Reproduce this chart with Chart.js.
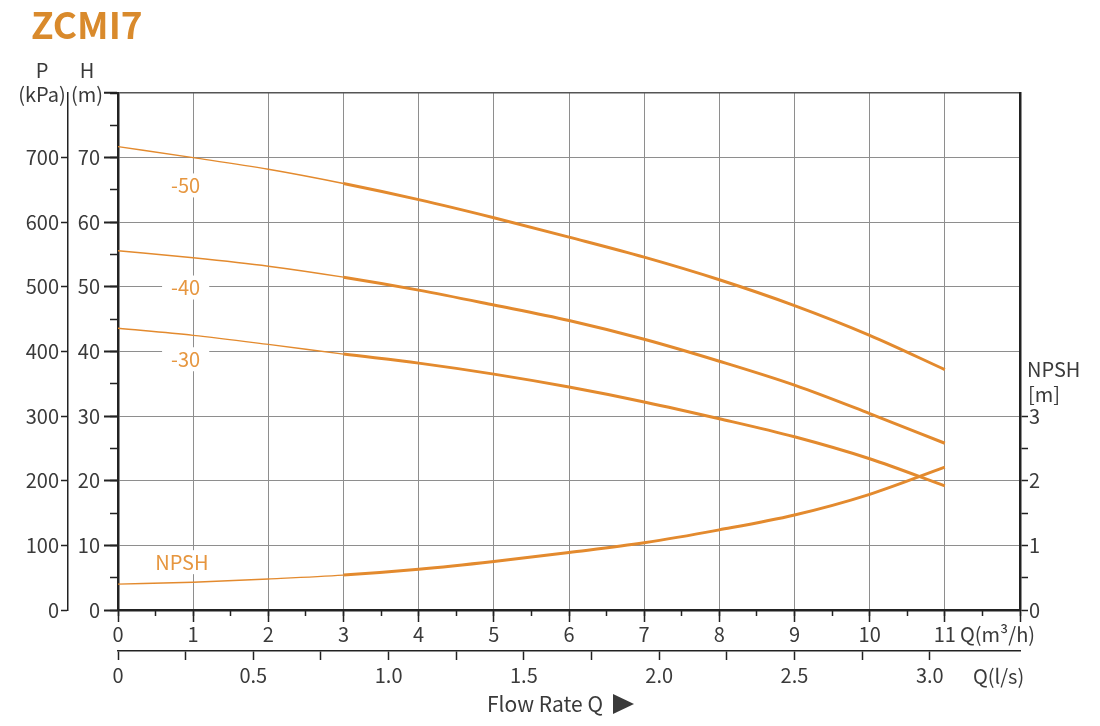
<!DOCTYPE html>
<html>
<head>
<meta charset="utf-8">
<script src="https://cdn.jsdelivr.net/npm/chart.js@4.4.0/dist/chart.umd.min.js"></script>
<style>
  html, body { margin: 0; padding: 0; background: #fff; }
  #wrap { position: relative; width: 1100px; height: 726px; }
</style>
</head>
<body>
<div id="wrap"><canvas id="pump" width="1100" height="726"></canvas></div>
<script>
// Flow in m3/h, head in m, NPSH in m
const flow = [0, 1, 2, 3, 4, 5, 6, 7, 8, 9, 10, 11];
const head50 = [71.7, 70.0, 68.2, 66.0, 63.5, 60.7, 57.7, 54.6, 51.1, 47.1, 42.5, 37.2];
const head40 = [55.6, 54.5, 53.2, 51.5, 49.5, 47.2, 44.8, 41.9, 38.5, 34.8, 30.4, 25.8];
const head30 = [43.6, 42.5, 41.1, 39.6, 38.2, 36.5, 34.5, 32.2, 29.6, 26.8, 23.4, 19.2];
const npsh = [0.40, 0.43, 0.48, 0.54, 0.63, 0.75, 0.89, 1.04, 1.24, 1.47, 1.79, 2.21];

// curve name tags (position in chart units: Q m3/h, H m)
const tagText = ["-50", "-40", "-30", "NPSH"];
const tagQ = [0.9, 0.9, 0.9, 0.85];
const tagH = [65.7, 49.9, 38.8, 7.4];

const ORANGE = "#e38a2e";
const TAG = "#e6963f";
const INK = "#3a3a3a";
const GRID = "#8e8e8e";
const FONT = "'Noto Sans CJK SC', 'Noto Sans', sans-serif";

const thinThick = { borderWidth: (ctx) => (ctx.p0.parsed.x >= 3 ? 3 : 1.4) };

function curve(label, data, axis) {
  return {
    label: label,
    data: flow.map((q, i) => ({ x: q, y: data[i] })),
    yAxisID: axis,
    borderColor: ORANGE,
    borderWidth: 3,
    pointRadius: 0,
    cubicInterpolationMode: "monotone",
    segment: thinThick,
  };
}

const isInt = (v) => Math.abs(v - Math.round(v)) < 1e-6;
const isHalf = (v) => Math.abs(v * 2 - Math.round(v * 2)) < 1e-6;

// tags with white boxes, drawn under the curves but over the grid
const tagPlugin = {
  id: "tags",
  beforeDatasetsDraw(chart) {
    const ctx = chart.ctx;
    const xs = chart.scales.x, ys = chart.scales.y;
    ctx.save();
    ctx.font = "20px " + FONT;
    ctx.textAlign = "center";
    ctx.textBaseline = "middle";
    tagText.forEach((t, i) => {
      const px = xs.getPixelForValue(tagQ[i]);
      const py = ys.getPixelForValue(tagH[i]);
      const w = ctx.measureText(t).width + 18;
      ctx.fillStyle = "#fff";
      ctx.fillRect(px - w / 2, py - 12, w, 24);
      ctx.fillStyle = TAG;
      ctx.fillText(t, px, py);
    });
    ctx.restore();
  },
  afterDraw(chart) {
    const ctx = chart.ctx;
    const a = chart.chartArea;
    ctx.save();
    // title
    ctx.fillStyle = "#d98a2c";
    ctx.font = "bold 37px " + FONT;
    ctx.textAlign = "left";
    ctx.textBaseline = "alphabetic";
    ctx.fillText("ZCMI7", 31, 39);

    ctx.fillStyle = INK;
    ctx.font = "20px " + FONT;
    ctx.textBaseline = "middle";
    ctx.textAlign = "center";
    ctx.fillText("P", 42, 70);
    ctx.fillText("(kPa)", 42, 94);
    ctx.fillText("H", 87, 70);
    ctx.fillText("(m)", 87, 94);

    ctx.textAlign = "left";
    ctx.fillText("NPSH", a.right + 7, 369);
    ctx.fillText("[m]", a.right + 8, 394);
    ctx.fillText("Q(m\u00b3/h)", 960, a.bottom + 24);
    ctx.fillText("Q(l/s)", 973, a.bottom + 66);
    ctx.font = "21px " + FONT;
    ctx.fillText("Flow Rate Q", 487, 704);

    ctx.beginPath();
    ctx.moveTo(613, 694);
    ctx.lineTo(634, 704);
    ctx.lineTo(613, 714);
    ctx.closePath();
    ctx.fill();
    ctx.restore();
  },
};

const tickFont = { family: FONT, size: 20 };

new Chart(document.getElementById("pump"), {
  type: "line",
  data: {
    datasets: [
      curve("-50", head50, "y"),
      curve("-40", head40, "y"),
      curve("-30", head30, "y"),
      curve("NPSH", npsh, "yN"),
    ],
  },
  options: {
    responsive: false,
    animation: false,
    layout: { padding: { top: 93, left: 0, right: 0, bottom: 0 } },
    plugins: { legend: { display: false }, tooltip: { enabled: false } },
    scales: {
      x: {
        type: "linear",
        position: "bottom",
        weight: 1,
        min: 0,
        max: 12,
        afterFit: (s) => { s.height = 41; },
        ticks: {
          stepSize: 1,
          color: INK,
          font: tickFont,
          padding: 0,
          maxRotation: 0,
          callback: (v) => (v < 12 ? String(v) : ""),
        },
        grid: { color: GRID, lineWidth: 1, tickColor: "#222", tickLength: 12, tickWidth: 1.5 },
        border: { color: "#222", width: 2.5 },
      },
      xm: {
        type: "linear",
        position: "bottom",
        weight: 0,
        min: 0,
        max: 12,
        afterFit: (s) => { s.height = 0; },
        ticks: { stepSize: 0.5, display: false },
        grid: { drawOnChartArea: false, tickColor: "#222", tickLength: 6, tickWidth: 1.5 },
        border: { display: false },
      },
      xL: {
        type: "linear",
        position: "bottom",
        weight: 2,
        min: 0,
        max: 12 / 3.6,
        afterFit: (s) => { s.height = 75; },
        afterBuildTicks: (s) => { s.ticks = s.ticks.filter((t) => t.value <= 3.0001); },
        ticks: {
          stepSize: 0.25,
          includeBounds: false,
          color: INK,
          font: tickFont,
          padding: 3,
          maxRotation: 0,
          autoSkip: false,
          callback: (v) => (isHalf(v) ? (v === 0 ? "0" : v.toFixed(1)) : ""),
        },
        grid: { drawOnChartArea: false, tickColor: "#222", tickLength: 9, tickWidth: 1.5 },
        border: { color: "#222", width: 1.5 },
      },
      y: {
        type: "linear",
        position: "left",
        weight: 1,
        min: 0,
        max: 80,
        afterFit: (s) => { s.width = 50; },
        ticks: {
          stepSize: 10,
          color: INK,
          font: tickFont,
          padding: 4,
          callback: (v) => (v < 80 ? String(v) : ""),
        },
        grid: {
          color: (c) => (c.tick && c.tick.value === 80 ? "#555" : GRID),
          lineWidth: (c) => (c.tick && c.tick.value === 80 ? 1.5 : 1),
          tickColor: "#222",
          tickLength: 14,
          tickWidth: 2,
        },
        border: { color: "#222", width: 2.5 },
      },
      ym: {
        type: "linear",
        position: "left",
        weight: 0,
        min: 0,
        max: 80,
        afterFit: (s) => { s.width = 0; },
        ticks: { stepSize: 5, display: false },
        grid: { drawOnChartArea: false, tickColor: "#222", tickLength: 8, tickWidth: 1.5 },
        border: { display: false },
      },
      yP: {
        type: "linear",
        position: "left",
        weight: 2,
        min: 0,
        max: 800,
        afterFit: (s) => { s.width = 68; },
        afterBuildTicks: (s) => { s.ticks = s.ticks.filter((t) => t.value <= 700); },
        ticks: { stepSize: 100, color: INK, font: tickFont, padding: 2 },
        grid: { drawOnChartArea: false, tickColor: "#222", tickLength: 7, tickWidth: 1.5 },
        border: { color: "#222", width: 1.5 },
      },
      yN: {
        type: "linear",
        position: "right",
        min: 0,
        max: 8,
        afterFit: (s) => { s.width = 80; },
        afterBuildTicks: (s) => { s.ticks = s.ticks.filter((t) => t.value <= 3.0001); },
        ticks: {
          stepSize: 0.5,
          color: INK,
          font: tickFont,
          padding: 1,
          autoSkip: false,
          callback: (v) => (isInt(v) ? String(v) : ""),
        },
        grid: { drawOnChartArea: false, tickColor: "#222", tickLength: 8, tickWidth: 1.5 },
        border: { color: "#222", width: 2.5 },
      },
    },
  },
  plugins: [tagPlugin],
});
</script>
</body>
</html>
